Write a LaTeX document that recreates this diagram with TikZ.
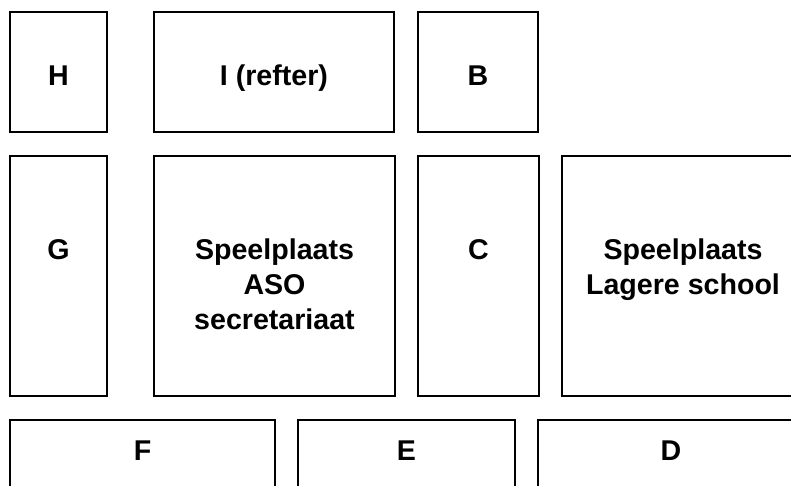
\documentclass[tikz,border=0pt]{standalone}
\usepackage{fontspec}
\setmainfont{Liberation Sans}
\begin{document}
\begin{tikzpicture}[x=1pt,y=-1pt,
  room/.style={draw=black,line width=1.8pt,fill=none},
  lbl/.style={anchor=base,align=center,inner sep=0pt,
    font=\fontsize{28.6}{35}\selectfont\bfseries}]
\useasboundingbox (0,0) rectangle (791,485);
\clip (0,0) rectangle (791,485);
% rooms
\draw[room] (10,12) rectangle (107,132);
\draw[room] (154,12) rectangle (394,132);
\draw[room] (418,12) rectangle (538,132);
\draw[room] (10,156) rectangle (107,396);
\draw[room] (154,156) rectangle (395,396);
\draw[room] (418,156) rectangle (539,396);
\draw[room] (562,156) rectangle (800,396);
\draw[room] (10,420) rectangle (275,500);
\draw[room] (298,420) rectangle (515,500);
\draw[room] (538,420) rectangle (800,500);
% labels
\node[lbl] (H) at (58.5,85) {H};
\node[lbl] (I) at (274,85) {I (refter)};
\node[lbl] (B) at (478,85) {B};
\node[lbl] (G) at (58.5,259.5) {G};
\node[lbl] (A) at (274.5,329.5) {Speelplaats\\ASO\\secretariaat};
\node[lbl] (C) at (478.5,259.5) {C};
\node[lbl] (L) at (683,294.5) {Speelplaats\\Lagere school};
\node[lbl] (F) at (142.5,460) {F};
\node[lbl] (E) at (406.5,460) {E};
\node[lbl] (D) at (671,460) {D};
\end{tikzpicture}
\end{document}
